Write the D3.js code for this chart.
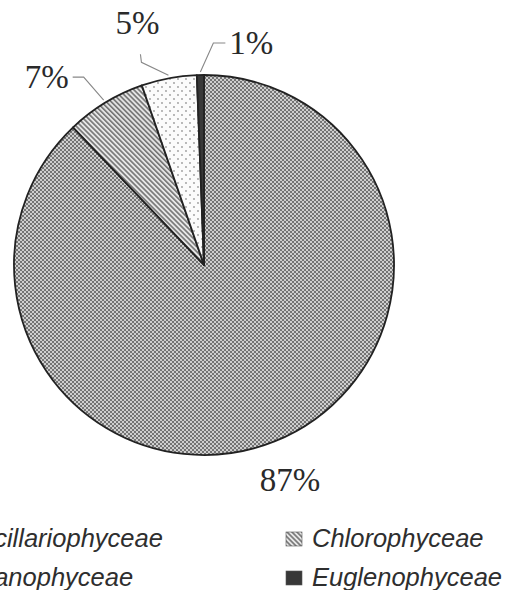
<!DOCTYPE html>
<html>
<head>
<meta charset="utf-8">
<script src="https://cdn.jsdelivr.net/npm/d3@7"></script>
<style>
  body { margin: 0; background: #fff; }
  svg { display: block; }
</style>
</head>
<body>
<div id="chart"></div>
<script>
// chart data
var categories = ["Bacillariophyceae", "Chlorophyceae", "Cyanophyceae", "Euglenophyceae"];
var values = [87.9, 6.8, 4.7, 0.6];
var labels = ["87%", "7%", "5%", "1%"];

var width = 519, height = 590;
var cx = 204, cy = 265, radius = 190;

var svg = d3.select("#chart").append("svg")
    .attr("width", width)
    .attr("height", height);

//patterns for the slices
var defs = svg.append("defs");

var p1 = defs.append("pattern").attr("id", "pat0")
    .attr("patternUnits", "userSpaceOnUse").attr("width", 4).attr("height", 4);
p1.append("rect").attr("width", 4).attr("height", 4).attr("fill", "#cfcfcf");
p1.append("rect").attr("width", 2).attr("height", 2).attr("fill", "#747474");
p1.append("rect").attr("x", 2).attr("y", 2).attr("width", 2).attr("height", 2).attr("fill", "#747474");

var p2 = defs.append("pattern").attr("id", "pat1")
    .attr("patternUnits", "userSpaceOnUse").attr("width", 3.5).attr("height", 3.5)
    .attr("patternTransform", "rotate(-45)");
p2.append("rect").attr("width", 3.5).attr("height", 3.5).attr("fill", "#e6e6e6");
p2.append("rect").attr("width", 1.6).attr("height", 3.5).attr("fill", "#737373");

var p3 = defs.append("pattern").attr("id", "pat2")
    .attr("patternUnits", "userSpaceOnUse").attr("width", 8).attr("height", 8);
p3.append("rect").attr("width", 8).attr("height", 8).attr("fill", "#fbfbfb");
p3.append("circle").attr("cx", 2).attr("cy", 2).attr("r", 0.9).attr("fill", "#9a9a9a");
p3.append("circle").attr("cx", 6).attr("cy", 6).attr("r", 0.9).attr("fill", "#9a9a9a");

var fills = ["url(#pat0)", "url(#pat1)", "url(#pat2)", "#383838"];

var pie = d3.pie().sort(null).value(function(d) { return d; });
var arcs = pie(values);

var arc = d3.arc().innerRadius(0).outerRadius(radius);

var g = svg.append("g").attr("transform", "translate(" + cx + "," + cy + ")");

g.selectAll("path.slice")
    .data(arcs)
    .enter()
    .append("path")
    .attr("class", "slice")
    .attr("d", arc)
    .attr("fill", function(d, i) { return fills[i]; })
    .attr("stroke", "#222")
    .attr("stroke-width", 1.8)
    .attr("stroke-linejoin", "round");

//label layout: leader elbow offsets from the pie edge, then label offset
var labelLayout = [
    { leader: false, r: 232, dy: 11, anchor: "middle" },
    { leader: true, elbow: [-20, -23], end: [-11, 0], text: [-4, 11], anchor: "end" },
    { leader: true, elbow: [-27, -13], end: [-1, -8], text: [-3, -20], anchor: "middle" },
    { leader: true, elbow: [13, -29], end: [12, 0], text: [4, 11], anchor: "start" }
];

arcs.forEach(function(d, i) {
    var mid = (d.startAngle + d.endAngle) / 2;
    var lay = labelLayout[i];
    var tx, ty;
    if (lay.leader) {
        var ax = (radius + 3) * Math.sin(mid), ay = -(radius + 3) * Math.cos(mid);
        var ex = ax + lay.elbow[0], ey = ay + lay.elbow[1];
        var fx = ex + lay.end[0], fy = ey + lay.end[1];
        g.append("path")
            .attr("d", d3.line()([[ax, ay], [ex, ey], [fx, fy]]))
            .attr("fill", "none")
            .attr("stroke", "#888")
            .attr("stroke-width", 1.1);
        tx = fx + lay.text[0];
        ty = fy + lay.text[1];
    } else {
        tx = lay.r * Math.sin(mid);
        ty = -lay.r * Math.cos(mid) + lay.dy;
    }
    g.append("text")
        .attr("x", tx)
        .attr("y", ty)
        .attr("text-anchor", lay.anchor)
        .style("font-family", "'Liberation Serif', 'Times New Roman', serif")
        .style("font-size", "33px")
        .style("fill", "#2a2a2a")
        .text(labels[i]);
});

//legend, two columns, the left one runs off the page as in the original
var colX = [-63, 286];
var rowY = [547, 586];

var legend = svg.append("g");
var items = legend.selectAll("g.item")
    .data(categories)
    .enter()
    .append("g")
    .attr("class", "item")
    .attr("transform", function(d, i) {
        return "translate(" + colX[i % 2] + "," + rowY[Math.floor(i / 2)] + ")";
    });

items.append("rect")
    .attr("x", 0)
    .attr("y", -15)
    .attr("width", 16)
    .attr("height", 14)
    .attr("fill", function(d, i) { return fills[i]; })
    .attr("stroke", "#555")
    .attr("stroke-width", 0.6);

items.append("text")
    .attr("x", 26)
    .attr("y", 0)
    .style("font-family", "'Liberation Sans', Arial, sans-serif")
    .style("font-style", "italic")
    .style("font-size", "25.5px")
    .style("fill", "#2e2e2e")
    .text(function(d) { return d; });
</script>
</body>
</html>
